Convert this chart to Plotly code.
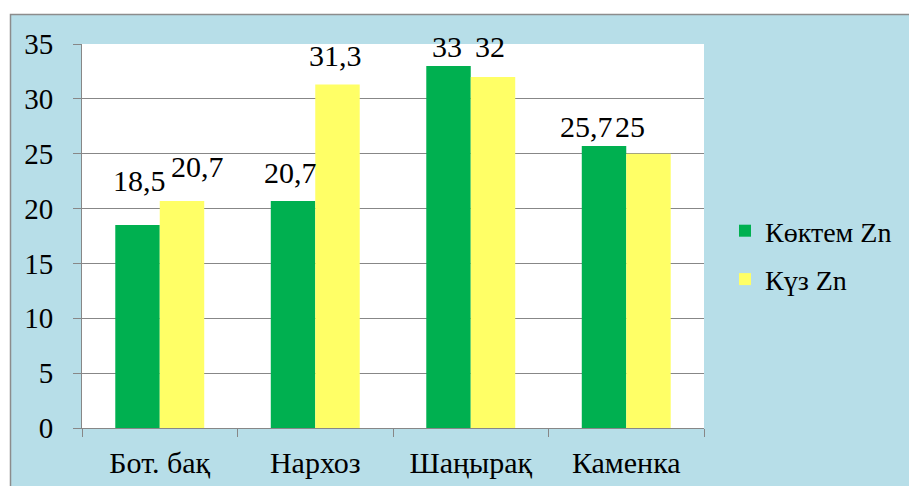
import plotly.graph_objects as go

# Zinc content by site, spring vs autumn
sites = ["Бот. бақ", "Нархоз", "Шаңырақ", "Каменка"]
spring_zn = [18.5, 20.7, 33, 25.7]
autumn_zn = [20.7, 31.3, 32, 25]
y_ticks = [0, 5, 10, 15, 20, 25, 30, 35]

GREEN = "#00B050"
YELLOW = "#FFFF66"
BLUE_BG = "#B7DEE8"
GRID = "#878787"
FONT = "Liberation Serif"

W, H = 909, 486
ML, MR, MT, MB = 82, 205, 44, 58
PW, PH = W - ML - MR, H - MT - MB
BAR_HALF = 22.25  # pixel offset of each bar centre from its category centre

# hand-placed value labels: (x offset px, baseline height above bar top px)
spring_lbl = [(2, 34), (-3, 18), (-2, 9), (-18, 9)]
autumn_lbl = [(15, 24), (-2, 19), (-3, 20), (-19, 17)]


def px_x(px):
    return (px - ML) / PW


def px_y(py):
    return (H - MB - py) / PH


def fmt(v):
    return f"{v:g}".replace(".", ",")


fig = go.Figure()
fig.add_trace(go.Bar(x=sites, y=spring_zn, name="Көктем Zn",
                     marker_color=GREEN, marker_line_width=0, legendgroup="a"))
fig.add_trace(go.Bar(x=sites, y=autumn_zn, name="Күз Zn",
                     marker_color=YELLOW, marker_line_width=0, legendgroup="b"))

LBL_SIZE = 30
annotations = []
for vals, lbls, side in [(spring_zn, spring_lbl, -1), (autumn_zn, autumn_lbl, 1)]:
    for site, v, (dx, dy) in zip(sites, vals, lbls):
        annotations.append(dict(
            x=site, y=v, xref="x", yref="y", text=fmt(v), showarrow=False,
            xanchor="center", yanchor="bottom",
            xshift=side * BAR_HALF + dx, yshift=dy - 8,
            font=dict(family=FONT, size=LBL_SIZE, color="black"),
        ))

# chart frame: light-blue panel with a grey border on a white page
shapes = [
    dict(type="rect", xref="paper", yref="paper", x0=px_x(10.5), x1=px_x(W + 20),
         y0=px_y(H + 20), y1=px_y(14.5), fillcolor=BLUE_BG,
         line=dict(color="#8C8C8C", width=1.5), layer="below"),
    dict(type="rect", xref="paper", yref="paper", x0=0, x1=1, y0=0, y1=1,
         fillcolor="white", line_width=0, layer="below"),
]

fig.update_layout(
    width=W, height=H,
    margin=dict(l=ML, r=MR, t=MT, b=MB, autoexpand=False),
    paper_bgcolor="white", plot_bgcolor="white",
    barmode="group", bargap=0.428, bargroupgap=0,
    font=dict(family=FONT, size=29, color="black"),
    shapes=shapes, annotations=annotations,
    showlegend=True,
    legend=dict(
        x=px_x(725), xanchor="left", y=px_y(255), yanchor="middle",
        bgcolor="rgba(0,0,0,0)", font=dict(family=FONT, size=28),
        tracegroupgap=9, traceorder="grouped",
    ),
)
fig.update_xaxes(
    showline=True, linecolor=GRID, linewidth=1, automargin=False,
    ticks="outside", ticklen=8, tickcolor=GRID, tickson="boundaries",
    tickfont=dict(family=FONT, size=30), showgrid=False, ticklabelstandoff=8,
)
fig.update_yaxes(
    range=[0, 35], tickvals=y_ticks, showline=True, linecolor=GRID, linewidth=1,
    ticks="outside", ticklen=8, tickcolor=GRID, showgrid=True, gridcolor=GRID,
    gridwidth=1, tickfont=dict(family=FONT, size=29), ticklabelstandoff=14,
    zeroline=False, automargin=False,
)

fig.write_html("out.html", config=dict(displayModeBar=False))
